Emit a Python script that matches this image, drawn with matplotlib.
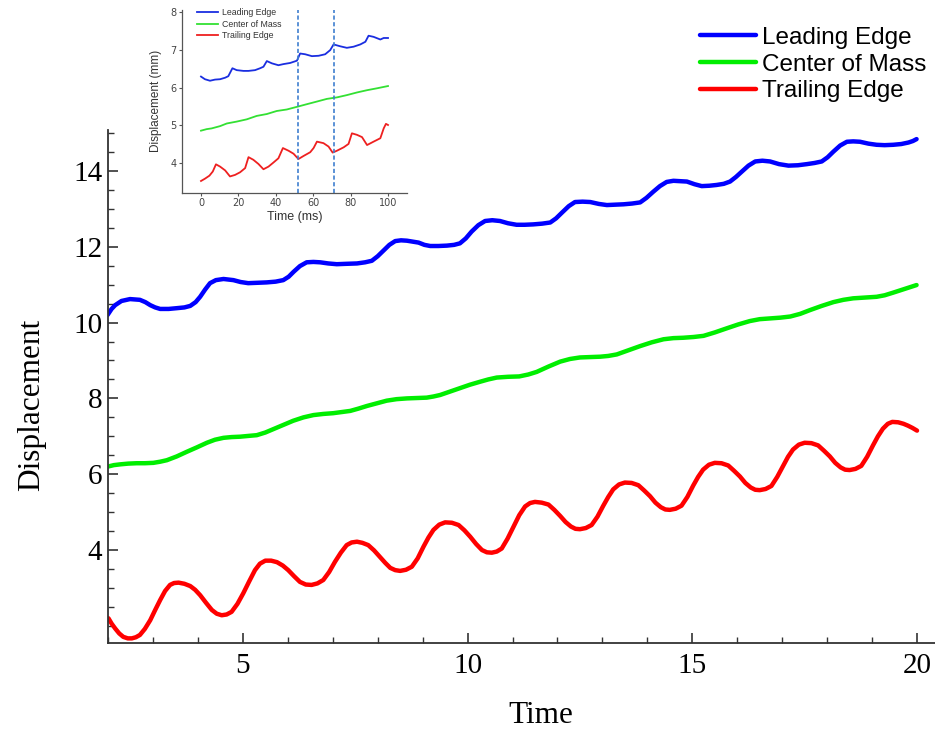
import matplotlib
matplotlib.use("Agg")
import matplotlib.pyplot as plt
from matplotlib.ticker import MultipleLocator

# ---------------- main chart data ----------------
lead_t = [1.99, 2.08, 2.16, 2.30, 2.49, 2.71, 2.83, 2.94, 3.05, 3.16, 3.35, 3.53, 3.70, 3.83, 3.95,
          4.05, 4.16, 4.27, 4.40, 4.57, 4.79, 4.95, 5.12, 5.33, 5.53, 5.73, 5.90, 6.02, 6.13, 6.27,
          6.42, 6.57, 6.72, 6.90, 7.09, 7.30, 7.54, 7.72, 7.87, 8.00, 8.13, 8.26, 8.39, 8.52, 8.65,
          8.91, 9.04, 9.17, 9.35, 9.54, 9.70, 9.83, 9.96, 10.09, 10.24, 10.39, 10.55, 10.72, 10.90,
          11.09, 11.27, 11.46, 11.66, 11.84, 11.97, 12.10, 12.25, 12.39, 12.56, 12.73, 12.92, 13.10,
          13.28, 13.47, 13.66, 13.84, 13.98, 14.13, 14.28, 14.43, 14.58, 14.73, 14.88, 15.05, 15.21,
          15.38, 15.54, 15.70, 15.84, 15.97, 16.10, 16.25, 16.40, 16.56, 16.73, 16.93, 17.14, 17.35,
          17.55, 17.72, 17.88, 18.01, 18.14, 18.29, 18.44, 18.58, 18.73, 18.92, 19.10, 19.28, 19.47,
          19.65, 19.81, 19.91, 19.99]
lead_y = [10.20, 10.36, 10.46, 10.57, 10.62, 10.60, 10.54, 10.46, 10.40, 10.36, 10.36, 10.38, 10.40,
          10.44, 10.54, 10.68, 10.87, 11.04, 11.12, 11.15, 11.12, 11.07, 11.04, 11.05, 11.06, 11.08,
          11.12, 11.21, 11.34, 11.49, 11.59, 11.60, 11.59, 11.56, 11.54, 11.55, 11.56, 11.59, 11.63,
          11.75, 11.90, 12.05, 12.15, 12.17, 12.16, 12.11, 12.05, 12.02, 12.02, 12.03, 12.05, 12.09,
          12.22, 12.40, 12.57, 12.68, 12.70, 12.68, 12.62, 12.58, 12.58, 12.59, 12.61, 12.64, 12.75,
          12.90, 13.07, 13.18, 13.19, 13.18, 13.13, 13.10, 13.11, 13.12, 13.14, 13.17, 13.29, 13.45,
          13.60, 13.71, 13.74, 13.73, 13.72, 13.65, 13.60, 13.61, 13.63, 13.66, 13.72, 13.84, 13.98,
          14.14, 14.25, 14.27, 14.25, 14.18, 14.14, 14.15, 14.18, 14.21, 14.25, 14.36, 14.51, 14.67,
          14.77, 14.78, 14.77, 14.72, 14.69, 14.68, 14.69, 14.71, 14.75, 14.79, 14.84]

mass_t = [1.99, 2.13, 2.27, 2.45, 2.64, 2.82, 3.01, 3.16, 3.31, 3.53, 3.75, 3.98, 4.20, 4.38, 4.57,
          4.75, 4.94, 5.12, 5.31, 5.50, 5.68, 5.90, 6.12, 6.35, 6.57, 6.79, 7.01, 7.20, 7.39, 7.57,
          7.76, 7.98, 8.20, 8.42, 8.65, 8.87, 9.09, 9.24, 9.39, 9.61, 9.83, 10.05, 10.28, 10.46, 10.65,
          10.90, 11.15, 11.35, 11.54, 11.80, 12.06, 12.28, 12.50, 12.72, 12.95, 13.13, 13.32, 13.58,
          13.84, 14.10, 14.36, 14.58, 14.80, 15.03, 15.25, 15.50, 15.77, 16.02, 16.28, 16.50, 16.73,
          16.96, 17.18, 17.40, 17.62, 17.88, 18.14, 18.36, 18.58, 18.84, 19.10, 19.28, 19.47, 19.73,
          19.99]
mass_y = [6.20, 6.24, 6.26, 6.28, 6.29, 6.29, 6.30, 6.33, 6.37, 6.47, 6.59, 6.71, 6.83, 6.91, 6.96,
          6.98, 6.99, 7.01, 7.03, 7.10, 7.19, 7.30, 7.41, 7.50, 7.56, 7.59, 7.61, 7.64, 7.67, 7.73,
          7.80, 7.87, 7.94, 7.98, 8.00, 8.01, 8.02, 8.05, 8.09, 8.18, 8.27, 8.36, 8.44, 8.50, 8.55,
          8.57, 8.58, 8.63, 8.70, 8.84, 8.97, 9.04, 9.08, 9.09, 9.10, 9.12, 9.16, 9.27, 9.38, 9.48,
          9.56, 9.59, 9.60, 9.62, 9.65, 9.74, 9.85, 9.95, 10.04, 10.09, 10.11, 10.13, 10.16, 10.23,
          10.33, 10.44, 10.54, 10.60, 10.64, 10.66, 10.68, 10.72, 10.79, 10.89, 10.99]

trail_t = [2.01, 2.08, 2.16, 2.25, 2.34, 2.44, 2.53, 2.62, 2.71, 2.82, 2.94, 3.05, 3.16, 3.27, 3.38,
           3.47, 3.57, 3.70, 3.83, 3.94, 4.05, 4.18, 4.31, 4.42, 4.53, 4.64, 4.75, 4.88, 5.01, 5.14,
           5.27, 5.38, 5.50, 5.63, 5.76, 5.89, 6.01, 6.14, 6.27, 6.40, 6.53, 6.66, 6.79, 6.92, 7.05,
           7.18, 7.31, 7.42, 7.54, 7.66, 7.79, 7.92, 8.05, 8.17, 8.28, 8.39, 8.50, 8.63, 8.76, 8.89,
           9.02, 9.13, 9.24, 9.37, 9.50, 9.65, 9.80, 9.93, 10.06, 10.19, 10.32, 10.43, 10.54, 10.65,
           10.76, 10.89, 11.02, 11.15, 11.28, 11.39, 11.50, 11.65, 11.80, 11.93, 12.06, 12.18, 12.30,
           12.40, 12.50, 12.63, 12.76, 12.89, 13.02, 13.13, 13.24, 13.37, 13.50, 13.65, 13.80, 13.93,
           14.06, 14.18, 14.30, 14.40, 14.50, 14.63, 14.76, 14.89, 15.02, 15.13, 15.24, 15.37, 15.50,
           15.65, 15.80, 15.93, 16.06, 16.18, 16.30, 16.40, 16.50, 16.63, 16.76, 16.89, 17.02, 17.13,
           17.24, 17.37, 17.50, 17.65, 17.80, 17.93, 18.06, 18.18, 18.30, 18.40, 18.50, 18.63, 18.76,
           18.89, 19.02, 19.13, 19.24, 19.35, 19.45, 19.58, 19.70, 19.80, 19.90, 20.00]
trail_y = [2.20, 2.06, 1.93, 1.80, 1.71, 1.67, 1.67, 1.70, 1.76, 1.92, 2.15, 2.42, 2.68, 2.92, 3.08,
           3.13, 3.14, 3.11, 3.05, 2.95, 2.81, 2.61, 2.42, 2.32, 2.28, 2.30, 2.37, 2.58, 2.86, 3.17,
           3.47, 3.64, 3.72, 3.72, 3.68, 3.59, 3.47, 3.31, 3.16, 3.09, 3.08, 3.12, 3.21, 3.42, 3.69,
           3.93, 4.13, 4.20, 4.22, 4.19, 4.13, 3.99, 3.82, 3.66, 3.53, 3.47, 3.45, 3.48, 3.56, 3.78,
           4.09, 4.33, 4.53, 4.67, 4.73, 4.72, 4.66, 4.52, 4.35, 4.16, 4.00, 3.94, 3.93, 3.96, 4.04,
           4.30, 4.61, 4.92, 5.15, 5.24, 5.27, 5.25, 5.20, 5.06, 4.90, 4.74, 4.62, 4.56, 4.55, 4.58,
           4.66, 4.88, 5.17, 5.40, 5.60, 5.73, 5.78, 5.77, 5.71, 5.57, 5.42, 5.25, 5.13, 5.07, 5.06,
           5.09, 5.17, 5.40, 5.70, 5.93, 6.12, 6.25, 6.30, 6.29, 6.23, 6.09, 5.94, 5.77, 5.65, 5.59,
           5.58, 5.61, 5.69, 5.93, 6.22, 6.46, 6.65, 6.78, 6.83, 6.82, 6.76, 6.62, 6.47, 6.30, 6.18,
           6.12, 6.11, 6.14, 6.22, 6.46, 6.76, 7.00, 7.20, 7.33, 7.38, 7.37, 7.33, 7.28, 7.22, 7.15]

series_names = ["Leading Edge", "Center of Mass", "Trailing Edge"]
x_ticks = [5, 10, 15, 20]
y_ticks = [4, 6, 8, 10, 12, 14]

# ---------------- inset data ----------------
in_lead_t = [0, 2.1, 4.8, 7.5, 10.2, 12.9, 14.6, 16.8, 19.1, 22.7, 25.4, 28.9, 31.6, 33.4, 35.2, 37.9,
             41.4, 44.1, 47.7, 51.3, 53.0, 55.7, 59.3, 62.9, 66.4, 69.1, 70.9, 74.5, 78.0, 81.6, 85.2,
             87.9, 89.6, 92.3, 95.9, 97.7, 100]
in_lead_y = [6.29, 6.22, 6.18, 6.21, 6.22, 6.26, 6.30, 6.51, 6.46, 6.44, 6.44, 6.46, 6.51, 6.55, 6.70,
             6.64, 6.59, 6.62, 6.65, 6.71, 6.90, 6.88, 6.83, 6.84, 6.88, 6.99, 7.14, 7.09, 7.05, 7.08,
             7.14, 7.21, 7.37, 7.34, 7.27, 7.31, 7.31]
in_mass_t = [0, 3.0, 5.7, 10.2, 13.8, 19.1, 24.5, 29.8, 35.2, 40.5, 45.9, 51.3, 56.6, 62.0, 67.3, 72.7,
             78.0, 83.4, 88.8, 94.1, 100]
in_mass_y = [4.86, 4.90, 4.92, 4.98, 5.05, 5.10, 5.16, 5.25, 5.30, 5.38, 5.42, 5.49, 5.56, 5.63, 5.70,
             5.74, 5.80, 5.87, 5.93, 5.98, 6.04]
in_trail_t = [0, 2.1, 4.5, 6.3, 8.0, 10.2, 12.9, 15.5, 18.2, 20.9, 23.6, 25.4, 28.0, 30.7, 33.4, 36.1,
              38.8, 41.4, 43.8, 46.8, 49.5, 52.1, 54.8, 58.4, 60.2, 62.0, 65.5, 68.2, 70.4, 72.7, 76.3,
              78.9, 80.7, 83.4, 86.1, 88.8, 92.3, 95.9, 97.7, 98.9, 100]
in_trail_y = [3.53, 3.59, 3.67, 3.78, 3.97, 3.91, 3.81, 3.65, 3.69, 3.76, 3.87, 4.16, 4.09, 3.98, 3.84,
              3.91, 4.02, 4.13, 4.40, 4.33, 4.25, 4.11, 4.19, 4.29, 4.40, 4.57, 4.53, 4.44, 4.28, 4.33,
              4.42, 4.51, 4.79, 4.75, 4.69, 4.48, 4.57, 4.66, 4.92, 5.04, 5.01]
in_marks = [51.8, 70.9]
in_x_ticks = [0, 20, 40, 60, 80, 100]
in_y_ticks = [4, 5, 6, 7, 8]

main_colors = ["#0000ff", "#00ee00", "#ff0000"]
inset_colors = ["#1a2ee0", "#33e033", "#ee2020"]

fig = plt.figure(figsize=(9.35, 7.3), dpi=100)
W, H = 935, 730

def px_axes(l, t, r, b):
    return [l / W, 1 - b / H, (r - l) / W, (b - t) / H]

# ---------------- main axes ----------------
ax = fig.add_axes(px_axes(108, 130, 935, 643.3))
serif = "Liberation Serif"
lines = []
for (t, y), c in zip([(lead_t, lead_y), (mass_t, mass_y), (trail_t, trail_y)], main_colors):
    ln, = ax.plot(t, y, color=c, lw=3.2, solid_joinstyle="round", solid_capstyle="round")
    lines.append(ln)
ax.set_xlim(2.0, 20.4)
ax.set_ylim(1.54, 15.08)
for s in ["top", "right"]:
    ax.spines[s].set_visible(False)
for s in ["left", "bottom"]:
    ax.spines[s].set_color("#333333")
    ax.spines[s].set_linewidth(1.3)
ax.set_xticks(x_ticks)
ax.set_yticks(y_ticks)
ax.xaxis.set_minor_locator(MultipleLocator(1))
ax.yaxis.set_minor_locator(MultipleLocator(0.5))
ax.tick_params(which="major", direction="in", length=7, width=1.2, color="#333333",
               labelsize=21)
ax.tick_params(axis="x", which="major", pad=7)
ax.tick_params(axis="y", which="major", pad=4)
ax.tick_params(which="minor", direction="in", length=4.5, width=1.0, color="#333333")
for lab in ax.get_xticklabels() + ax.get_yticklabels():
    lab.set_fontfamily(serif)
ax.set_xlabel("Time", fontsize=22.5, fontfamily=serif)
ax.set_ylabel("Displacement", fontsize=22.5, fontfamily=serif)
ax.xaxis.set_label_coords((541 - 108) / 827, (643.3 - 701) / 513.3)
ax.yaxis.set_label_coords((46 - 108) / 827, (643.3 - 405) / 513.3)

leg = fig.legend(lines, series_names, loc="upper left", bbox_to_anchor=(690 / W, 1 - 17 / H),
                 frameon=False, prop={"family": "Liberation Sans", "size": 17.5},
                 handlelength=2.3, handletextpad=0.25, labelspacing=0.2, borderaxespad=0)

# ---------------- inset axes ----------------
ia = fig.add_axes(px_axes(182.3, 10, 406.7, 192.7))
ia.set_facecolor("white")
ilines = []
for (t, y), c in zip([(in_lead_t, in_lead_y), (in_mass_t, in_mass_y), (in_trail_t, in_trail_y)],
                     inset_colors):
    ln, = ia.plot(t, y, color=c, lw=1.3)
    ilines.append(ln)
for m in in_marks:
    ia.axvline(m, color="#3f7fcf", lw=1.2, ls=(0, (2.5, 1.5)))
ia.set_xlim(-10, 110)
ia.set_ylim(3.22, 8.05)
ia.set_xticks(in_x_ticks)
ia.set_yticks(in_y_ticks)
for s in ["top", "right"]:
    ia.spines[s].set_visible(False)
for s in ["left", "bottom"]:
    ia.spines[s].set_color("#555555")
    ia.spines[s].set_linewidth(0.9)
ia.tick_params(direction="out", length=2.5, width=0.8, color="#555555", labelcolor="#444444",
               labelsize=7, pad=1.5)
ia.set_xlabel("Time (ms)", fontsize=9, color="#333333", labelpad=2, fontfamily="Liberation Sans")
ia.set_ylabel("Displacement (mm)", fontsize=8.5, color="#333333", labelpad=6,
              fontfamily="Liberation Sans")
ia.legend(ilines, series_names, loc="upper left", bbox_to_anchor=(0.05, 1.03), frameon=False,
          prop={"family": "Liberation Sans", "size": 6.3}, handlelength=2.4, handletextpad=0.5,
          labelspacing=0.3, borderaxespad=0, labelcolor="#333333")

fig.savefig("out.png", dpi=100)
